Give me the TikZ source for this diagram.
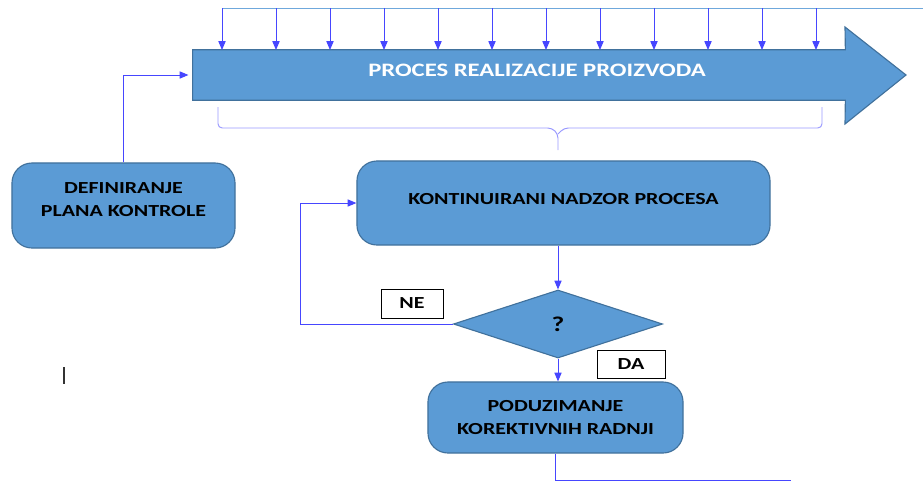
\documentclass[tikz,border=0pt]{standalone}
\usepackage{fontspec}
\setmainfont{Carlito}
\newfontfamily\widefont[FakeStretch=1.3]{Carlito}
\usetikzlibrary{positioning, arrows.meta, shapes.geometric, calc}

\definecolor{boxblue}{HTML}{5B9BD5}
\definecolor{boxedge}{HTML}{41719C}
\definecolor{linkblue}{HTML}{4646FF}
\definecolor{toplineblue}{HTML}{6FA8DC}

\begin{document}
\begin{tikzpicture}[x=0.025cm, y=-0.025cm,
    block/.style={rectangle, rounded corners=0.5cm, draw=boxedge, line width=0.8pt,
                  fill=boxblue, align=center, inner sep=0pt,
                  font=\widefont\bfseries\fontsize{12}{16.5}\selectfont},
    decision/.style={diamond, draw=boxedge, line width=0.8pt, fill=boxblue, aspect=3,
                     inner sep=0pt, minimum width=5.225cm, minimum height=1.7cm,
                     font=\widefont\bfseries\fontsize{15}{18}\selectfont},
    tag/.style={rectangle, draw=black, line width=0.6pt, fill=white, inner sep=0pt,
                font=\widefont\bfseries\fontsize{12}{14}\selectfont},
    arrow/.style={-{Triangle[length=2.2mm, width=1.8mm]}, linkblue, line width=0.7pt},
    link/.style={linkblue, line width=0.7pt}
]
    \useasboundingbox (0,0) rectangle (923,481);

    % Process arrow
    \node[minimum width=16.3cm, minimum height=1.25cm, inner sep=0pt] (proces) at (519,75) {};
    \draw[draw=boxedge, line width=0.8pt, fill=boxblue]
        (proces.north west) -- (proces.north east) -- (845,27) -- (906,75)
        -- (845,124) -- (proces.south east) -- (proces.south west) -- cycle;
    \node[white, font=\widefont\bfseries\fontsize{13.5}{15}\selectfont] (procestext) at (537,70)
        {PROCES REALIZACIJE PROIZVODA};

    % Inputs from above
    \coordinate (topstart) at (222,8);
    \draw[toplineblue, line width=0.7pt] (topstart) -- (923,8);
    \foreach \x in {222,276,...,816}
        \draw[arrow] (\x,8) -- (\x,50);

    % Brace under the process
    \draw[linkblue!55, line width=0.7pt, rounded corners=3pt]
        (218,107) -- (218,128) -- (552,128) -- (558,134) -- (558,150);
    \draw[linkblue!55, line width=0.7pt, rounded corners=3pt]
        (822,107) -- (822,128) -- (564,128) -- (558,134);

    % Blocks
    \node[block, minimum width=5.575cm, minimum height=2.125cm] (plan) at (123.5,205.5)
        {\raisebox{3.5pt}[\height][\depth]{\begin{tabular}{@{}c@{}}DEFINIRANJE\\PLANA KONTROLE\end{tabular}}};
    \node[block, minimum width=10.325cm, minimum height=2.1cm] (nadzor) at (563.5,203)
        {\raisebox{6pt}{KONTINUIRANI NADZOR PROCESA}};
    \node[decision] (odluka) at (558,324) {?};
    \node[block, minimum width=6.375cm, minimum height=1.775cm] (korekcija) at (555.5,417.5)
        {PODUZIMANJE\\KOREKTIVNIH RADNJI};

    % Labels
    \node[tag, minimum width=1.55cm, minimum height=0.725cm] (ne) at (412,303.5) {NE};
    \node[tag, minimum width=1.7cm, minimum height=0.7cm] (da) at (631,364) {DA};

    % Arrows
    \draw[arrow] (plan.north) |- ([xshift=-3pt]proces.west);
    \draw[arrow] (odluka.north |- nadzor.south) -- (odluka.north);
    \draw[arrow] (odluka.west) -- ++(-152,0) |- (nadzor.west);
    \draw[arrow] (odluka.south) -- (odluka.south |- korekcija.north);
    \draw[link] (korekcija.south) -- ++(0,27) -- ++(235,0);

    % Cursor mark
    \draw[black!80, line width=0.8pt] (64,367) -- (64,384);

\end{tikzpicture}
\end{document}
